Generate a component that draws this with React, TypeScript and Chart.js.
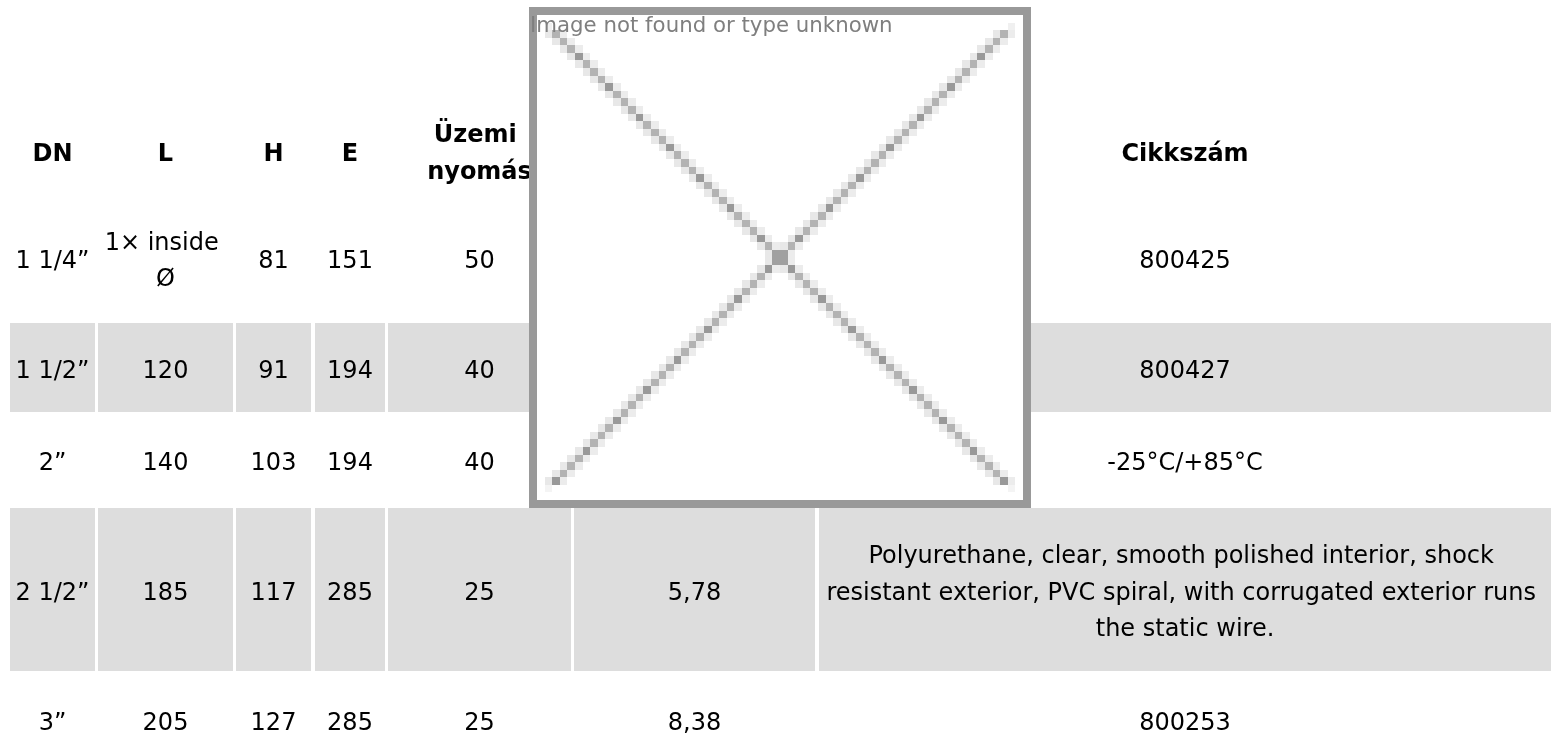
import { useEffect, useRef } from "react";
import { Chart, registerables } from "chart.js";

Chart.register(...registerables);

// ---------- data ----------
const headers = ["DN", "L", "H", "E", "Üzemi nyomás", "", "Cikkszám"];
const dnValues = ["1 1/4”", "1 1/2”", "2”", "2 1/2”", "3”"];
const lValues = ["1× inside Ø", "120", "140", "185", "205"];
const hValues = ["81", "91", "103", "117", "127"];
const eValues = ["151", "194", "194", "285", "285"];
const pressureValues = ["50", "40", "40", "25", "25"];
const weightValues = ["", "", "", "5,78", "8,38"];
const articleValues = [
  "800425",
  "800427",
  "-25°C/+85°C",
  "Polyurethane, clear, smooth polished interior, shock resistant exterior, PVC spiral, with corrugated exterior runs the static wire.",
  "800253",
];
const shadedRows = [1, 3];
const altText = "Image not found or type unknown";

// ---------- layout ----------
const W = 1551;
const H = 742;
const COL_EDGES: [number, number][] = [
  [10, 95], [98, 233], [236, 311], [315, 385], [388, 571], [574, 815], [819, 1551],
];
const HEADER_CENTER = 150.5;
const ROW_EDGES: [number, number][] = [
  [195, 321], [323, 412], [414, 506], [508, 671], [673, 767],
];
const LINE_H = 36.5;
const BASE_OFF = 10;
const CELL_PAD = 4;
const FONT = '"DejaVu Sans", "Noto Sans", sans-serif';
const IMG_BOX = { x0: 529, y0: 7, x1: 1031, y1: 508, border: 8, icon: 64 };

const columns = [dnValues, lValues, hValues, eValues, pressureValues, weightValues, articleValues];

function wrap(ctx: CanvasRenderingContext2D, text: string, maxW: number): string[] {
  const words = text.split(" ");
  const lines: string[] = [];
  let cur = "";
  for (const w of words) {
    const test = cur ? cur + " " + w : w;
    if (cur && ctx.measureText(test).width > maxW) {
      lines.push(cur + " ");
      cur = w;
    } else {
      cur = test;
    }
  }
  if (cur) lines.push(cur);
  return lines;
}

const tablePlugin = {
  id: "tableText",
  afterDatasetsDraw(chart: any) {
    const ctx: CanvasRenderingContext2D = chart.ctx;
    const xs = chart.scales.x;
    const ys = chart.scales.y;
    ctx.save();
    ctx.textAlign = "center";
    ctx.textBaseline = "alphabetic";
    ctx.fillStyle = "#000";

    const drawCell = (text: string, col: number, centerVal: number, bold: boolean) => {
      if (!text) return;
      ctx.font = `${bold ? "bold " : ""}24px ${FONT}`;
      const [a, b] = COL_EDGES[col];
      const maxW = xs.getPixelForValue(b) - xs.getPixelForValue(a) - 2 * CELL_PAD;
      const lines = wrap(ctx, text, maxW);
      const cx = xs.getPixelForValue((a + b) / 2);
      const cy = ys.getPixelForValue(centerVal);
      lines.forEach((ln, i) => {
        const y = cy + BASE_OFF - ((lines.length - 1) * LINE_H) / 2 + i * LINE_H;
        ctx.fillText(ln, cx, y);
      });
    };

    headers.forEach((h, c) => drawCell(h, c, HEADER_CENTER, true));
    columns.forEach((vals, c) => {
      vals.forEach((v, r) => {
        const [t, b] = ROW_EDGES[r];
        drawCell(v, c, (t + b) / 2, false);
      });
    });
    ctx.restore();

    // broken image placeholder overlay
    ctx.save();
    const bx0 = xs.getPixelForValue(IMG_BOX.x0);
    const bx1 = xs.getPixelForValue(IMG_BOX.x1);
    const by0 = ys.getPixelForValue(IMG_BOX.y0);
    const by1 = ys.getPixelForValue(IMG_BOX.y1);
    const bd = IMG_BOX.border;
    ctx.fillStyle = "#999999";
    ctx.fillRect(bx0, by0, bx1 - bx0, by1 - by0);
    ctx.fillStyle = "#ffffff";
    const ix0 = bx0 + bd, iy0 = by0 + bd, ix1 = bx1 - bd, iy1 = by1 - bd;
    ctx.fillRect(ix0, iy0, ix1 - ix0, iy1 - iy0);
    const n = IMG_BOX.icon;
    const bw = (ix1 - ix0) / n;
    const bh = (iy1 - iy0) / n;
    const block = (i: number, j: number, color: string) => {
      const x = Math.round(ix0 + i * bw);
      const y = Math.round(iy0 + j * bh);
      const x2 = Math.round(ix0 + (i + 1) * bw);
      const y2 = Math.round(iy0 + (j + 1) * bh);
      ctx.fillStyle = color;
      ctx.fillRect(x, y, x2 - x, y2 - y);
    };
    for (let k = 2; k <= 61; k++) {
      block(k - 1, k, "#e8e8e8");
      block(k + 1, k, "#ececec");
      block(62 - k, k, "#e8e8e8");
      block(64 - k, k, "#ececec");
    }
    block(1, 1, "#f0f0f0");
    block(62, 1, "#f0f0f0");
    block(1, 62, "#f4f4f4");
    block(62, 62, "#f4f4f4");
    for (let k = 2; k <= 61; k++) {
      const c = k % 4 === 1 ? "#999999" : "#b3b3b3";
      block(k, k, c);
      block(63 - k, k, c);
    }
    block(31, 31, "#a0a0a0");
    block(32, 31, "#a0a0a0");
    block(31, 32, "#a0a0a0");
    block(32, 32, "#a0a0a0");

    ctx.fillStyle = "#7f7f7f";
    ctx.font = `21.3px ${FONT}`;
    ctx.textAlign = "left";
    ctx.textBaseline = "alphabetic";
    ctx.fillText(altText, bx0 + 1, by0 + 25.3);
    ctx.restore();
  },
};

export default function App() {
  const ref = useRef<HTMLCanvasElement | null>(null);

  useEffect(() => {
    if (!ref.current) return;
    const datasets = shadedRows.map((r) => {
      const [t, b] = ROW_EDGES[r];
      return {
        label: `row-${r}`,
        data: COL_EDGES.map(([a, e]) => ({ x: [a, e], y: (t + b) / 2 })),
        backgroundColor: "#dddddd",
        borderWidth: 0,
        barThickness: b - t,
        grouped: false,
        inflateAmount: 0,
      };
    });
    const chart = new Chart(ref.current, {
      type: "bar",
      data: { datasets } as any,
      options: {
        indexAxis: "y",
        responsive: false,
        maintainAspectRatio: false,
        animation: false,
        events: [],
        layout: { padding: 0 },
        scales: {
          x: { type: "linear", min: 0, max: W, display: false, offset: false, grace: 0 },
          y: { type: "linear", min: 0, max: H, reverse: true, display: false, offset: false, grace: 0 },
        },
        plugins: { legend: { display: false }, tooltip: { enabled: false } },
      } as any,
      plugins: [tablePlugin],
    });
    return () => chart.destroy();
  }, []);

  return (
    <div style={{ position: "fixed", left: 0, top: 0, width: W, height: H, background: "#fff" }}>
      <canvas ref={ref} width={W} height={H} style={{ display: "block" }} />
    </div>
  );
}
